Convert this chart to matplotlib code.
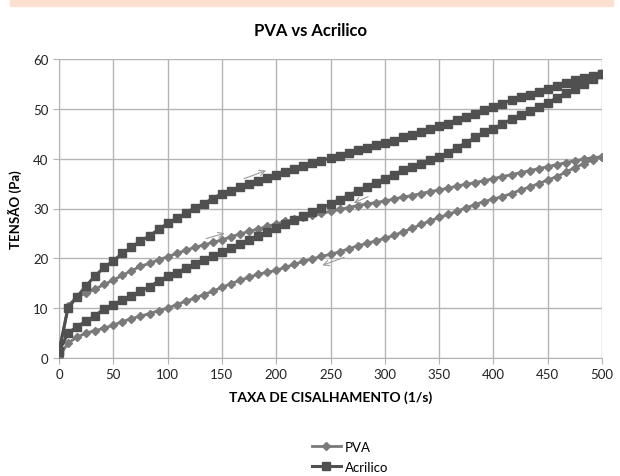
"""
PVA vs Acrilico - hysteresis curves
"""

import numpy as np
import matplotlib
matplotlib.use("Agg")
import matplotlib.pyplot as plt
from matplotlib.patches import Rectangle

# shear rate grid (1/s), 61 points per branch
taxa = np.linspace(0, 500, 61)

# stress (Pa), loading branch (rate going up)
acrilico_subida = [
    1.5, 10.0, 12.3, 14.5, 16.5, 18.2, 19.5, 21.0, 22.2, 23.5,
    24.5, 25.8, 27.0, 28.0, 29.0, 30.2, 31.0, 32.0, 33.0, 33.6,
    34.3, 35.0, 35.6, 36.2, 36.8, 37.3, 38.0, 38.6, 39.1, 39.6,
    40.1, 40.6, 41.2, 41.7, 42.2, 42.7, 43.1, 43.6, 44.3, 44.8,
    45.3, 45.9, 46.5, 47.0, 47.7, 48.3, 49.0, 49.8, 50.4, 51.0,
    51.8, 52.3, 52.8, 53.4, 54.0, 54.6, 55.2, 55.7, 56.2, 56.6,
    57.0]
# unloading branch, listed from 0 to 500
acrilico_descida = [
    1.3, 5.0, 6.3, 7.4, 8.5, 9.9, 10.6, 11.7, 12.5, 13.4,
    14.3, 15.4, 16.4, 17.1, 18.0, 18.8, 19.6, 20.4, 21.3, 22.1,
    22.9, 23.7, 24.4, 25.2, 26.0, 26.9, 27.7, 28.5, 29.3, 30.1,
    30.9, 31.8, 32.6, 33.5, 34.4, 35.2, 36.0, 36.8, 37.7, 38.4,
    39.0, 39.7, 40.4, 41.2, 42.2, 43.2, 44.3, 45.3, 46.0, 47.0,
    47.9, 48.8, 49.6, 50.4, 51.2, 52.2, 53.2, 54.0, 55.0, 56.0,
    57.0]
pva_subida = [
    0.5, 10.5, 12.3, 13.0, 13.8, 14.8, 15.6, 16.6, 17.5, 18.4,
    19.0, 19.7, 20.3, 21.0, 21.6, 22.2, 22.7, 23.2, 23.7, 24.3,
    24.9, 25.4, 25.9, 26.4, 26.9, 27.4, 27.8, 28.2, 28.6, 29.0,
    29.4, 29.8, 30.2, 30.6, 30.9, 31.2, 31.5, 31.9, 32.3, 32.6,
    33.0, 33.4, 33.7, 34.1, 34.5, 34.9, 35.2, 35.6, 36.0, 36.4,
    36.8, 37.2, 37.6, 38.0, 38.4, 38.8, 39.2, 39.6, 39.9, 40.2,
    40.4]
pva_descida = [
    0.3, 3.0, 4.2, 5.0, 5.5, 6.0, 6.6, 7.3, 7.9, 8.4,
    8.9, 9.5, 10.0, 10.7, 11.4, 12.0, 12.7, 13.4, 14.2, 14.9,
    15.6, 16.2, 16.8, 17.2, 17.6, 18.2, 18.8, 19.4, 19.9, 20.4,
    20.8, 21.3, 21.9, 22.5, 23.0, 23.5, 24.0, 24.6, 25.3, 26.0,
    26.8, 27.5, 28.2, 28.8, 29.5, 30.1, 30.8, 31.4, 31.9, 32.4,
    33.0, 33.7, 34.3, 35.0, 35.7, 36.4, 37.3, 38.2, 39.0, 39.8,
    40.4]

# direction arrows: (x_start, y_start, x_end, y_end)
setas = [
    (168, 35.8, 193, 37.8),
    (133, 23.8, 155, 25.2),
    (287, 32.6, 269, 30.9),
    (265, 20.4, 240, 18.4),
]


def ciclo(subida, descida):
    x = np.concatenate([taxa, taxa[::-1]])
    y = np.concatenate([subida, descida[::-1]])
    return x, y


def main():
    plt.rcParams['font.family'] = ['Lato', 'DejaVu Sans']
    fig = plt.figure(figsize=(6.2, 4.77), dpi=100)
    fig.patches.append(Rectangle((10 / 620, 1 - 7 / 477), 603 / 620, 7 / 477,
                                 transform=fig.transFigure, color='#fbe0d2',
                                 zorder=0))
    ax = fig.add_axes([59 / 620, 1 - 359 / 477, 543 / 620, 299 / 477])

    x, y = ciclo(pva_subida, pva_descida)
    ax.plot(x, y, color='#7a7a7a', lw=2, marker='D', ms=4,
            label='PVA', zorder=3)
    x, y = ciclo(acrilico_subida, acrilico_descida)
    ax.plot(x, y, color='#505050', lw=2.2, marker='s', ms=6,
            label='Acrilico', zorder=4)

    for x0, y0, x1, y1 in setas:
        ax.annotate('', xy=(x1, y1), xytext=(x0, y0),
                    arrowprops=dict(arrowstyle='->', color='#9a9a9a', lw=0.8),
                    zorder=5)

    ax.set_xlim(0, 500)
    ax.set_ylim(0, 60)
    ax.set_xticks(range(0, 501, 50))
    ax.set_yticks(range(0, 61, 10))
    ax.grid(True, color='#b4b4b4', lw=1)
    ax.set_axisbelow(True)
    for s in ['top', 'right']:
        ax.spines[s].set_visible(False)
    for s in ['left', 'bottom']:
        ax.spines[s].set_color('#b4b4b4')
    ax.tick_params(colors='#b4b4b4', labelcolor='#222222', labelsize=9.5,
                   length=4)

    fig.text(310 / 620, 1 - 31 / 477, 'PVA vs Acrilico', fontsize=12,
             fontweight='bold', ha='center', va='center')
    ax.set_xlabel('TAXA DE CISALHAMENTO (1/s)', fontsize=10,
                  fontweight='bold', labelpad=7)
    ax.set_ylabel('TENSÃO (Pa)', fontsize=9.5, fontweight='bold', labelpad=8)

    fig.legend(loc='upper left', bbox_to_anchor=(300 / 620, 1 - 430 / 477),
               frameon=False, fontsize=9.5, handlelength=2.2, labelspacing=0.6,
               handletextpad=0.3)

    fig.savefig('out.png', dpi=100)


if __name__ == "__main__":
    main()
